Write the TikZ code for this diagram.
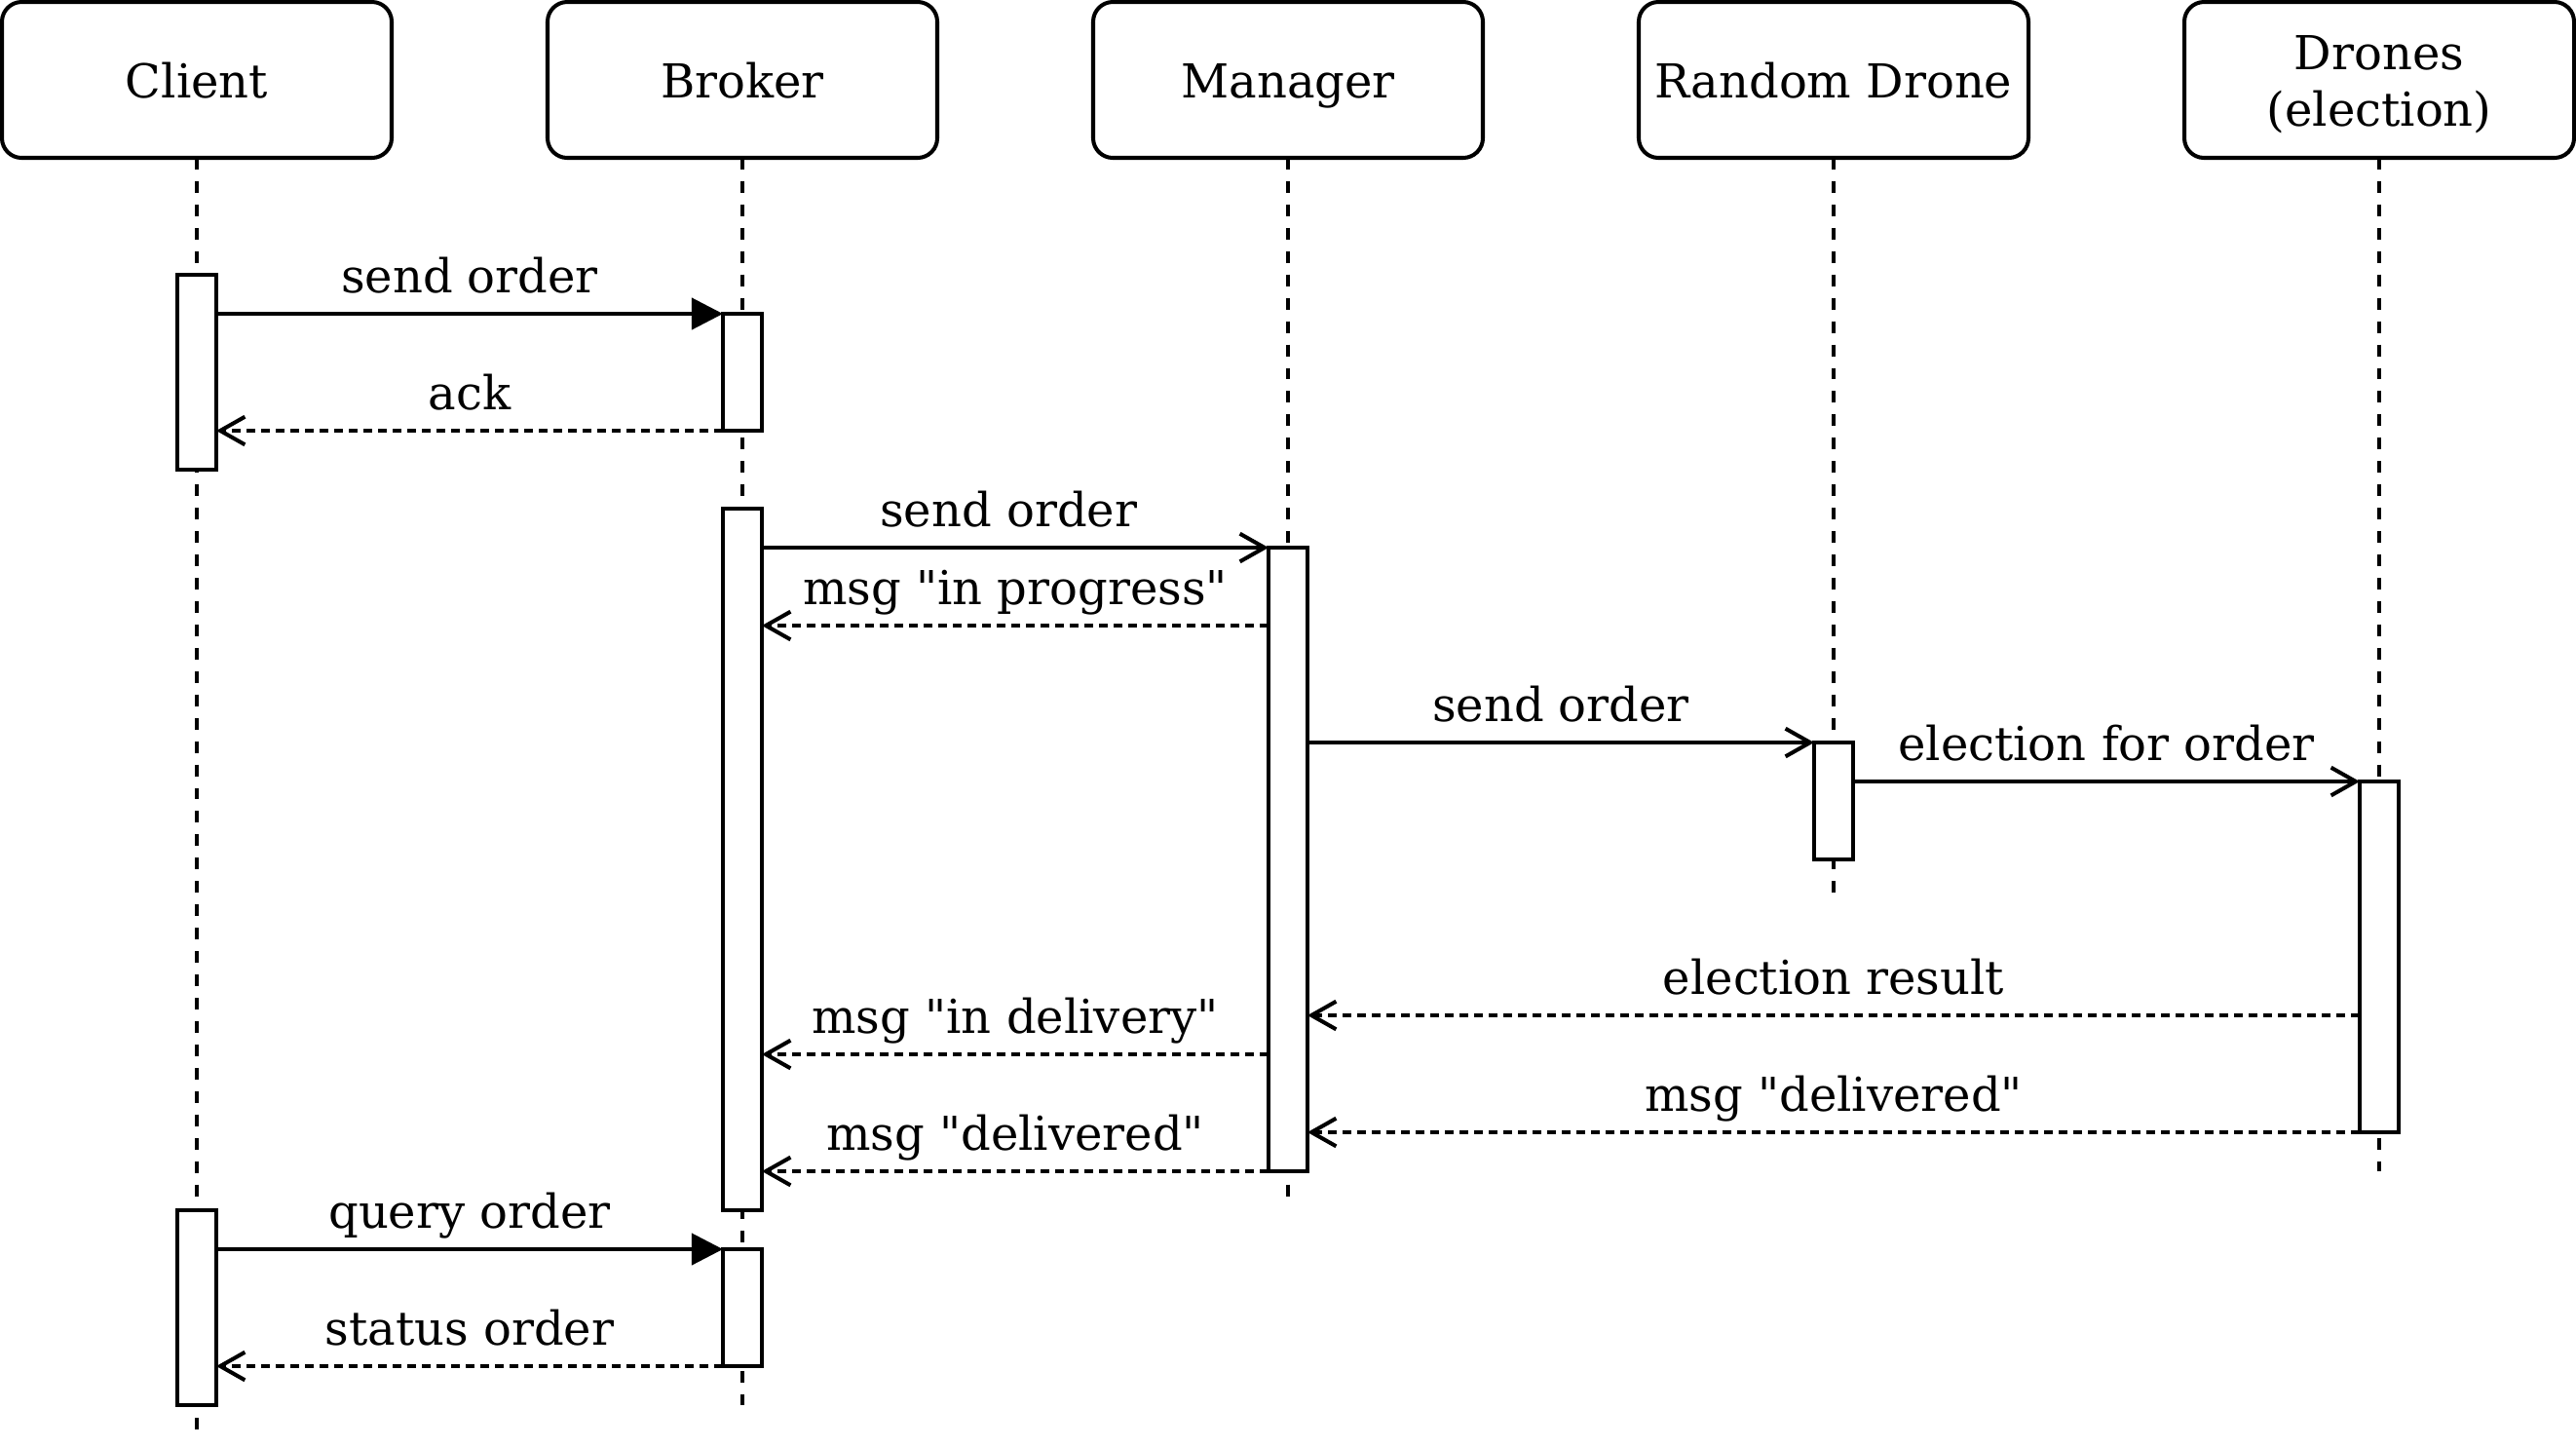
\documentclass[tikz,border=0pt]{standalone}
\usepackage{fontspec}
\setmainfont{DejaVu Serif}[Ligatures=TeXOff]
\usetikzlibrary{arrows.meta,calc}
\begin{document}
\begin{tikzpicture}[x=2.3722pt,y=-2.3722pt,
  hdr/.style={draw, line width=2.4pt, rounded corners=12pt, minimum width=100*2.3722pt,
    minimum height=40*2.3722pt, inner sep=0pt, outer sep=0pt,
    font=\fontsize{28.47}{34.5}\selectfont, align=center},
  hdrone/.style={hdr, text height=21.6pt, text depth=0pt},
  hdrtext/.style={inner sep=0pt, align=center, font=\fontsize{28.47}{34.5}\selectfont},
  life/.style={line width=2.2pt, dash pattern=on 7.1pt off 7.1pt},
  act/.style={draw, fill=white, line width=2.2pt, minimum width=10*2.3722pt,
    inner sep=0pt, outer sep=0pt},
  call/.style={line width=2.4pt, -{Triangle[length=19pt,width=19pt]}},
  msg/.style={line width=2.4pt, -{Straight Barb[length=15pt,width=17pt]}},
  ret/.style={msg, dash pattern=on 5.3pt off 3.6pt},
  lbl/.style={anchor=base, yshift=13pt, inner sep=0pt,
    font=\fontsize{28.47}{34.5}\selectfont}
]
\useasboundingbox (-0.5,-0.5) rectangle (660.5,370.5);

% headers
\node[hdrone] (client) at (50,20) {Client};
\node[hdrone] (broker) at (190,20) {Broker};
\node[hdrone] (manager) at (330,20) {Manager};
\node[hdrone] (rdrone) at (470,20) {Random Drone};
\node[hdr] (drones) at (610,20) {};
\node[hdrtext, yshift=-3pt] (dronesT) at (drones.center) {Drones\\(election)};

% lifeline ends
\coordinate (cEnd) at (50,367);
\coordinate (bEnd) at (190,360);
\coordinate (mEnd) at (330,307);
\coordinate (rEnd) at (470,230);
\coordinate (dEnd) at (610,300);

\draw[life] (client.south) -- (cEnd);
\draw[life] (broker.south) -- (bEnd);
\draw[life] (manager.south) -- (mEnd);
\draw[life] (rdrone.south) -- (rEnd);
\draw[life] (drones.south) -- (dEnd);

% activations
\node[act, minimum height=50*2.3722pt] (ca1) at (50,95) {};
\node[act, minimum height=30*2.3722pt] (ba1) at (190,95) {};
\node[act, minimum height=180*2.3722pt] (ba2) at (190,220) {};
\node[act, minimum height=160*2.3722pt] (ma) at (330,220) {};
\node[act, minimum height=30*2.3722pt] (ra) at (470,205) {};
\node[act, minimum height=90*2.3722pt] (da) at (610,245) {};
\node[act, minimum height=50*2.3722pt] (ca2) at (50,335) {};
\node[act, minimum height=30*2.3722pt] (ba3) at (190,335) {};

% message levels
\coordinate (m1) at (0,80);
\coordinate (m2) at (0,110);
\coordinate (m3) at (0,140);
\coordinate (m4) at (0,160);
\coordinate (m5) at (0,190);
\coordinate (m6) at (0,200);
\coordinate (m7) at (0,260);
\coordinate (m8) at (0,270);
\coordinate (m9) at (0,290);
\coordinate (m10) at (0,300);
\coordinate (m11) at (0,320);
\coordinate (m12) at (0,350);

% messages
\draw[call] (ca1.east |- m1) -- node[lbl]{send order} (ba1.west |- m1);
\draw[ret] (ba1.west |- m2) -- node[lbl]{ack} (ca1.east |- m2);
\draw[msg] (ba2.east |- m3) -- node[lbl, xshift=-4pt]{send order} (ma.west |- m3);
\draw[ret] (ma.west |- m4) -- node[lbl]{msg "in progress"} (ba2.east |- m4);
\draw[msg] (ma.east |- m5) -- node[lbl]{send order} (ra.west |- m5);
\draw[msg] (ra.east |- m6) -- node[lbl]{election for order} (da.west |- m6);
\draw[ret] (da.west |- m7) -- node[lbl]{election result} (ma.east |- m7);
\draw[ret] (ma.west |- m8) -- node[lbl]{msg "in delivery"} (ba2.east |- m8);
\draw[ret] (da.west |- m9) -- node[lbl]{msg "delivered"} (ma.east |- m9);
\draw[ret] (ma.west |- m10) -- node[lbl]{msg "delivered"} (ba2.east |- m10);
\draw[call] (ca2.east |- m11) -- node[lbl]{query order} (ba3.west |- m11);
\draw[ret] (ba3.west |- m12) -- node[lbl]{status order} (ca2.east |- m12);
\end{tikzpicture}
\end{document}
